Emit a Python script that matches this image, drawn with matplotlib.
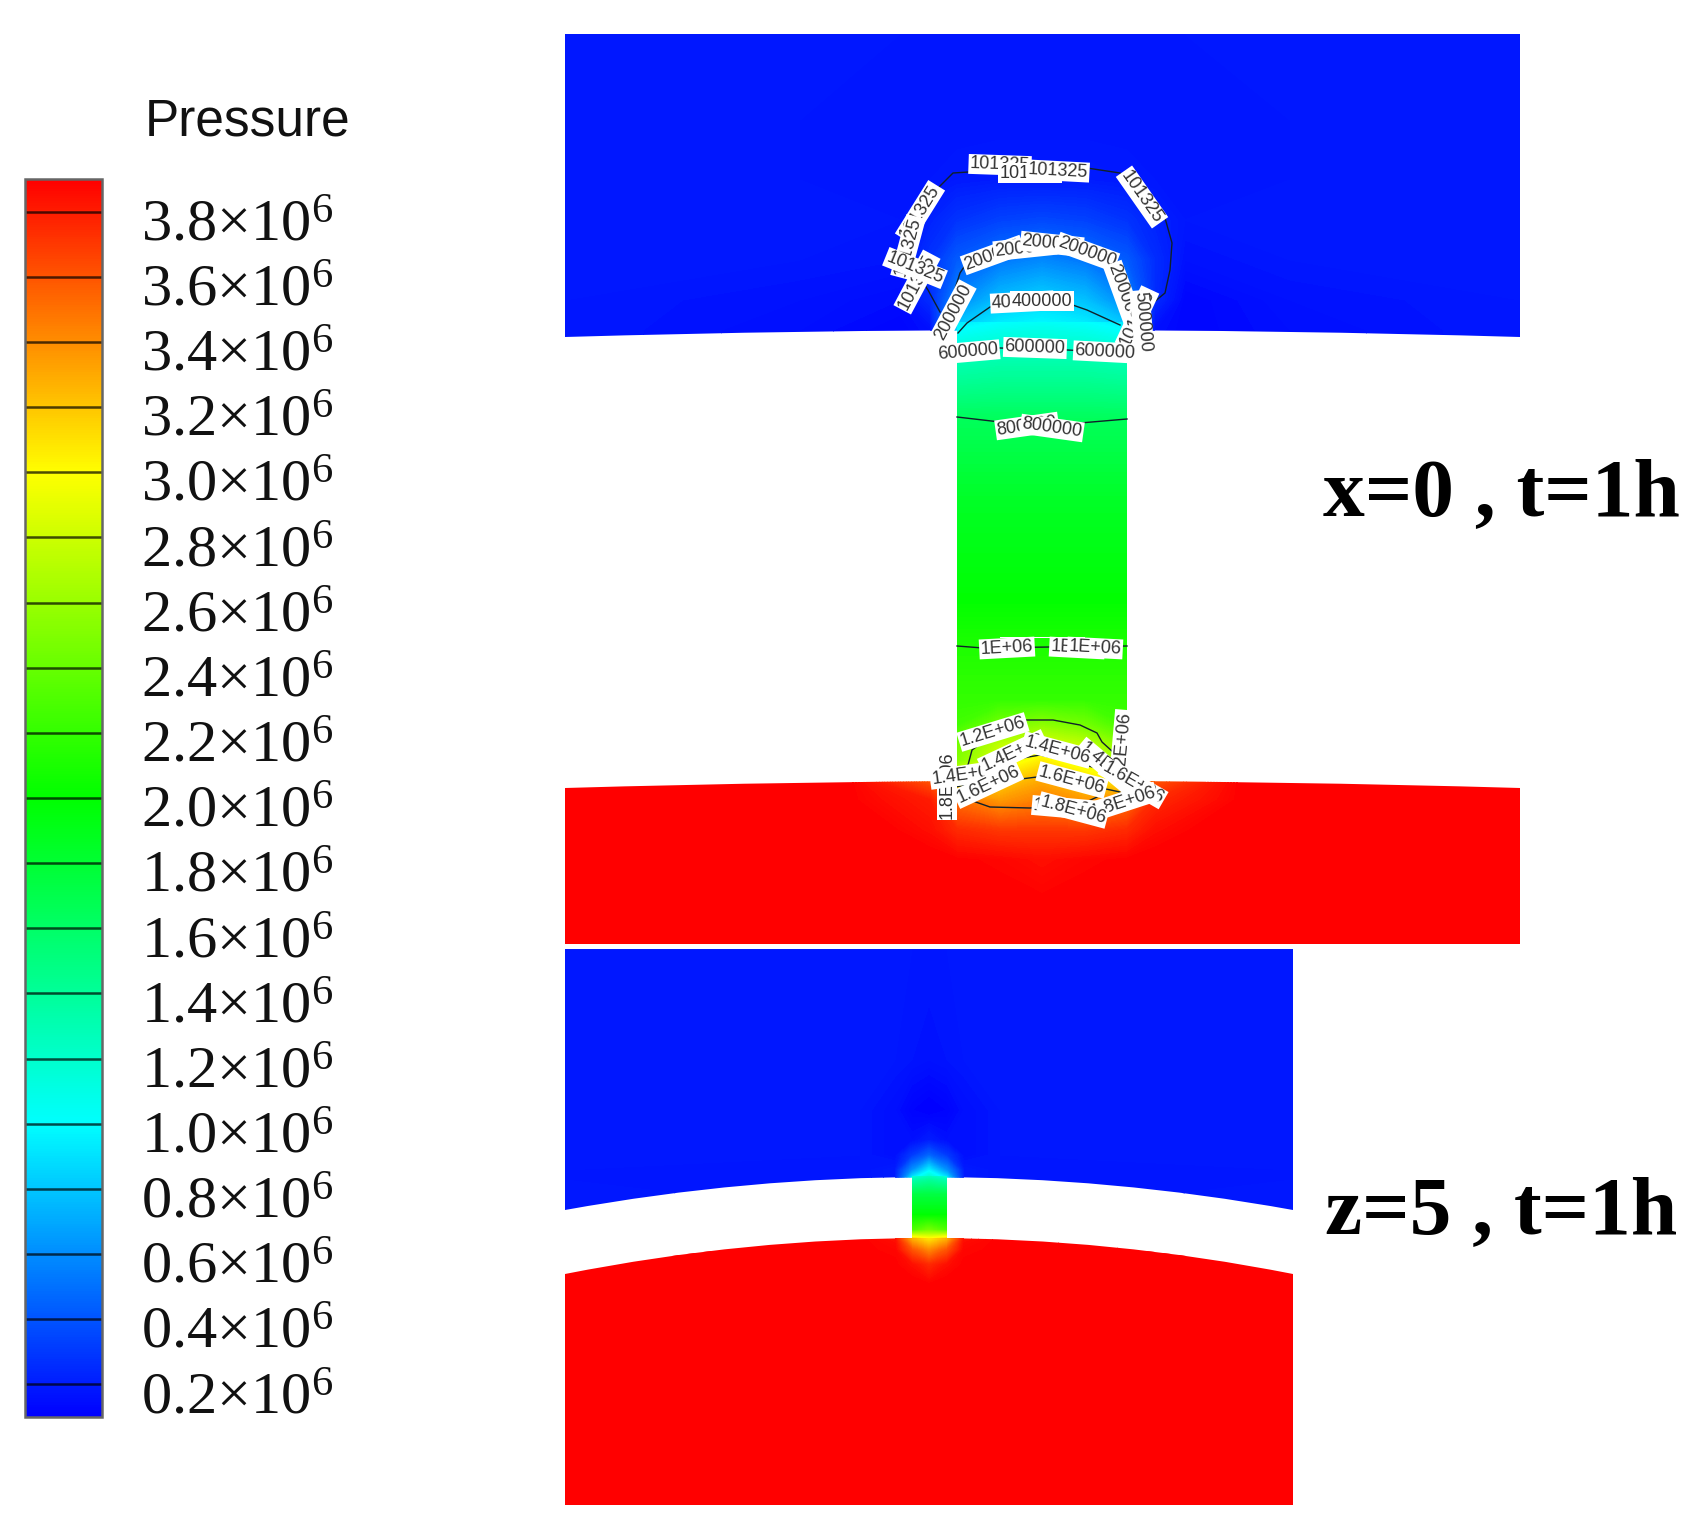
import numpy as np
import matplotlib
matplotlib.use("Agg")
import matplotlib.pyplot as plt
from matplotlib.colors import LinearSegmentedColormap, Normalize
from matplotlib.cm import ScalarMappable
from matplotlib.path import Path

W, H = 1696, 1531
plt.rcParams['mathtext.fontset'] = 'custom'
plt.rcParams['mathtext.rm'] = 'Liberation Serif'
plt.rcParams['mathtext.default'] = 'regular'

# ---------- data ----------
tick_levels = [0.2, 0.4, 0.6, 0.8, 1.0, 1.2, 1.4, 1.6, 1.8, 2.0, 2.2, 2.4, 2.6, 2.8, 3.0, 3.2, 3.4, 3.6, 3.8]
tick_names = ['0.2', '0.4', '0.6', '0.8', '1.0', '1.2', '1.4', '1.6', '1.8', '2.0', '2.2', '2.4', '2.6', '2.8',
              '3.0', '3.2', '3.4', '3.6', '3.8']
cmap_values = [0.1, 1.0, 2.0, 3.0, 3.9]
cmap_colors = ['#0000ff', '#00ffff', '#00ff00', '#ffff00', '#ff0000']

# panel 1 (x=0): pressure in 1e6 units, sampled on pixel-like section coordinates
top1_x = [565, 800, 900, 930, 957, 1000, 1042, 1085, 1127, 1155, 1185, 1290, 1520]
top1_y = [34, 120, 180, 220, 260, 300, 330, 345]
top1_p = [
    [.18, .18, .18, .18, .18, .18, .18, .18, .18, .18, .18, .18, .18],
    [.18, .18, .17, .17, .17, .17, .17, .17, .17, .17, .17, .18, .18],
    [.18, .18, .17, .18, .19, .20, .20, .20, .19, .18, .17, .18, .18],
    [.18, .18, .18, .22, .28, .33, .35, .33, .28, .22, .18, .18, .18],
    [.18, .18, .17, .28, .42, .52, .58, .52, .42, .26, .16, .18, .18],
    [.18, .16, .14, .25, .58, .78, .85, .78, .58, .25, .12, .16, .18],
    [.18, .15, .12, .15, .85, .98, 1.02, .98, .85, .15, .12, .15, .18],
    [.18, .15, .12, .15, .85, .98, 1.02, .98, .85, .15, .12, .15, .18],
]
neck1_x = [957, 1000, 1042, 1085, 1127]
neck1_y = [322, 363, 420, 500, 600, 650, 700, 725, 745, 760, 781, 800]
neck1_p = [
    [.92, 1.0, 1.03, 1.0, .92],
    [1.30, 1.33, 1.33, 1.33, 1.30],
    [1.65, 1.65, 1.65, 1.65, 1.65],
    [1.85, 1.85, 1.85, 1.85, 1.85],
    [2.0, 2.0, 2.0, 2.0, 2.0],
    [2.12, 2.12, 2.12, 2.12, 2.12],
    [2.2, 2.2, 2.2, 2.2, 2.2],
    [2.25, 2.45, 2.55, 2.45, 2.25],
    [2.45, 2.75, 2.85, 2.75, 2.5],
    [2.5, 2.85, 3.05, 2.85, 2.55],
    [3.0, 3.15, 3.3, 3.15, 3.0],
    [3.5, 3.35, 3.45, 3.35, 3.5],
]
base1_x = [565, 850, 930, 957, 1000, 1042, 1085, 1127, 1155, 1240, 1520]
base1_y = [770, 781, 800, 830, 860, 944]
base1_p = [
    [3.95, 3.9, 3.6, 3.0, 3.15, 3.25, 3.15, 3.0, 3.6, 3.9, 3.95],
    [3.95, 3.9, 3.6, 3.0, 3.15, 3.3, 3.15, 3.0, 3.6, 3.9, 3.95],
    [3.95, 3.9, 3.8, 3.5, 3.35, 3.45, 3.35, 3.5, 3.75, 3.9, 3.95],
    [3.95, 3.95, 3.85, 3.75, 3.7, 3.7, 3.7, 3.75, 3.85, 3.95, 3.95],
    [3.95, 3.95, 3.92, 3.9, 3.88, 3.85, 3.88, 3.9, 3.92, 3.95, 3.95],
    [3.95, 3.95, 3.95, 3.95, 3.95, 3.95, 3.95, 3.95, 3.95, 3.95, 3.95],
]

# panel 2 (z=5)
top2_x = [565, 860, 895, 912, 929, 947, 964, 1000, 1293]
top2_y = [949, 1060, 1110, 1140, 1155, 1170, 1180, 1215]
top2_p = [
    [.18, .18, .18, .18, .18, .18, .18, .18, .18],
    [.18, .18, .18, .17, .16, .17, .18, .18, .18],
    [.18, .18, .15, .11, .09, .11, .15, .18, .18],
    [.18, .18, .15, .15, .20, .15, .15, .18, .18],
    [.18, .18, .15, .30, .45, .30, .15, .18, .18],
    [.18, .17, .20, .60, .95, .60, .20, .17, .18],
    [.18, .17, .20, 1.0, 1.3, 1.0, .20, .17, .18],
    [.18, .18, .18, .18, .18, .18, .18, .18, .18],
]
neck2_x = [912, 929, 947]
neck2_y = [1176, 1180, 1195, 1215, 1230, 1240]
neck2_p = [
    [1.1, 1.25, 1.1],
    [1.3, 1.4, 1.3],
    [1.75, 1.75, 1.75],
    [2.0, 2.0, 2.0],
    [2.3, 2.45, 2.3],
    [3.3, 3.1, 3.3],
]
base2_x = [565, 860, 895, 912, 929, 947, 964, 1000, 1293]
base2_y = [1232, 1240, 1250, 1265, 1285, 1505]
base2_p = [
    [3.95, 3.9, 3.85, 3.3, 3.0, 3.3, 3.85, 3.9, 3.95],
    [3.95, 3.9, 3.85, 3.3, 3.1, 3.3, 3.85, 3.9, 3.95],
    [3.95, 3.9, 3.88, 3.6, 3.4, 3.6, 3.88, 3.9, 3.95],
    [3.95, 3.95, 3.9, 3.85, 3.75, 3.85, 3.9, 3.95, 3.95],
    [3.95, 3.95, 3.95, 3.92, 3.9, 3.92, 3.95, 3.95, 3.95],
    [3.95, 3.95, 3.95, 3.95, 3.95, 3.95, 3.95, 3.95, 3.95],
]

# isolines in panel 1
iso_101325_x = [940, 928, 915, 912, 920, 933, 953, 1000, 1050, 1087, 1120, 1145, 1165, 1172, 1170, 1165, 1148]
iso_101325_y = [312, 290, 270, 240, 215, 193, 173, 170, 168, 168, 173, 195, 218, 243, 270, 293, 307]
iso_200000_x = [942, 960, 970, 1000, 1040, 1080, 1113, 1128, 1133]
iso_200000_y = [330, 273, 258, 248, 243, 250, 267, 303, 330]
iso_400000_x = [958, 967, 990, 1030, 1067, 1087, 1120]
iso_400000_y = [333, 323, 307, 302, 303, 310, 325]
iso_600000_x = [940, 1000, 1067, 1133]
iso_600000_y = [353, 348, 350, 353]
iso_800000_x = [957, 1000, 1080, 1127]
iso_800000_y = [417, 422, 423, 419]
iso_1e6_x = [957, 983, 1050, 1127]
iso_1e6_y = [646, 648, 647, 646]
iso_12e5_x = [958, 968, 972, 995, 1023, 1053, 1080, 1097, 1102, 1113]
iso_12e5_y = [770, 765, 750, 733, 720, 720, 725, 733, 742, 752]
iso_14e5_x = [975, 1000, 1040, 1085, 1110]
iso_14e5_y = [775, 762, 755, 765, 772]
iso_16e5_x = [955, 980, 1013, 1037, 1073, 1120]
iso_16e5_y = [787, 783, 780, 777, 782, 792]
iso_18e5_x = [970, 990, 1030, 1080, 1097]
iso_18e5_y = [800, 807, 808, 805, 797]

iso_labels = [
    ("101325", 1000, 165, -2), ("101325", 1030, 173, 0), ("101325", 1058, 171, -3),
    ("101325", 1142, 197, -55), ("101325", 920, 212, 58), ("101325", 908, 247, 75),
    ("101325", 917, 282, 62), ("101325", 915, 268, -22),
    ("200000", 993, 255, 20), ("200000", 1025, 248, 6), ("200000", 1052, 244, -6), ("200000", 1087, 252, -20),
    ("200000", 953, 312, 62), ("200000", 1123, 293, -70), ("101325", 1137, 318, 65), ("500000", 1142, 322, -85),
    ("400000", 1022, 302, 3), ("400000", 1042, 301, 0),
    ("600000", 968, 352, 5), ("600000", 1035, 348, -2), ("600000", 1105, 352, -3),
    ("800000", 1027, 426, 8), ("800000", 1052, 428, -8),
    ("1E+06", 1007, 648, 3), ("1E+06", 1077, 648, -3), ("1E+06", 1095, 648, -3),
    ("1.2E+06", 993, 732, 17), ("1.8E+06", 947, 785, 90), ("1.2E+06", 1122, 745, 85),
    ("1.4E+06", 1107, 767, -40), ("1.4E+06", 965, 775, 8), ("1.6E+06", 988, 785, 25), ("1.4E+06", 1013, 753, 25),
    ("1.4E+06", 1057, 750, -15), ("1.6E+06", 1133, 783, -30), ("1.6E+06", 1072, 780, -15),
    ("1.8E+06", 1067, 808, -5), ("1.8E+06", 1123, 802, 18), ("1.8E+06", 1073, 810, -15),
]

# ---------- drawing ----------
fig = plt.figure(figsize=(W / 100, H / 100), dpi=100, facecolor='white')
ax = fig.add_axes([0, 0, 1, 1])
ax.set_xlim(0, W)
ax.set_ylim(H, 0)
ax.axis('off')

nodes = [(v - cmap_values[0]) / (cmap_values[-1] - cmap_values[0]) for v in cmap_values]
cmap = LinearSegmentedColormap.from_list('pressure', list(zip(nodes, cmap_colors)), N=512)
norm = Normalize(cmap_values[0], cmap_values[-1])
levels = np.linspace(0, 4.1, 411)


def field(xs, ys, p, path):
    cs = ax.contourf(xs, ys, np.array(p), levels=levels, cmap=cmap, norm=norm, zorder=2)
    cs.set_clip_path(path, transform=ax.transData)


M, L, C, Z = Path.MOVETO, Path.LINETO, Path.CURVE3, Path.CLOSEPOLY
top1_path = Path([(565, 34), (1520, 34), (1520, 337), (1042, 323), (565, 337), (565, 34)], [M, L, L, C, C, Z])
neck1_path = Path([(957, 322), (1127, 322), (1127, 795), (957, 795), (957, 322)], [M, L, L, L, Z])
base1_path = Path([(565, 788), (1042, 774), (1520, 788), (1520, 944), (565, 944), (565, 788)], [M, C, C, L, L, Z])
top2_path = Path([(565, 949), (1293, 949), (1293, 1210), (929, 1144), (565, 1210), (565, 949)], [M, L, L, C, C, Z])
neck2_path = Path([(912, 1176), (947, 1176), (947, 1240), (912, 1240), (912, 1176)], [M, L, L, L, Z])
base2_path = Path([(565, 1274), (929, 1202), (1293, 1274), (1293, 1505), (565, 1505), (565, 1274)], [M, C, C, L, L, Z])

field(top1_x, top1_y, top1_p, top1_path)
field(neck1_x, neck1_y, neck1_p, neck1_path)
field(base1_x, base1_y, base1_p, base1_path)
field(top2_x, top2_y, top2_p, top2_path)
field(neck2_x, neck2_y, neck2_p, neck2_path)
field(base2_x, base2_y, base2_p, base2_path)

for xs, ys in [(iso_101325_x, iso_101325_y), (iso_200000_x, iso_200000_y), (iso_400000_x, iso_400000_y),
               (iso_600000_x, iso_600000_y), (iso_800000_x, iso_800000_y), (iso_1e6_x, iso_1e6_y),
               (iso_12e5_x, iso_12e5_y), (iso_14e5_x, iso_14e5_y), (iso_16e5_x, iso_16e5_y),
               (iso_18e5_x, iso_18e5_y)]:
    ax.plot(xs, ys, color='#10202a', lw=1.0, zorder=3)

for i, (s, x, y, r) in enumerate(iso_labels):
    ax.text(x, y, s, rotation=r, rotation_mode='anchor', ha='center', va='center',
            family='Liberation Sans', fontsize=13, color='#333333', zorder=4 + i * 0.01,
            bbox=dict(boxstyle='square,pad=0.08', fc='white', ec='none'))

ax.text(1323, 515, 'x=0 , t=1h', family='Liberation Serif', weight='bold', fontsize=60, color='black',
        va='baseline', ha='left')
ax.text(1325, 1233, 'z=5 , t=1h', family='Liberation Serif', weight='bold', fontsize=60, color='black',
        va='baseline', ha='left')
ax.text(145, 135, 'Pressure', family='Liberation Sans', fontsize=37, color='#111111', va='baseline', ha='left')

# colour bar
cax = fig.add_axes([25 / W, 1 - 1417 / H, 77 / W, (1417 - 179) / H])
cb = fig.colorbar(ScalarMappable(norm=norm, cmap=cmap), cax=cax, ticks=tick_levels)
cb.ax.tick_params(length=0, labelright=False)
cb.outline.set_edgecolor('#666666')
cb.outline.set_linewidth(1.8)
for level, name in zip(tick_levels, tick_names):
    cb.ax.axhline(level, color='black', alpha=0.7, lw=1.8)
    cb.ax.annotate(name + '\u00d710$^{6}$', xy=(1, level), xycoords=cb.ax.get_yaxis_transform(),
                   xytext=(39, -29), textcoords='offset pixels', va='baseline', ha='left',
                   family='Liberation Serif', fontsize=43.5, color='#111111')

fig.savefig('out.png', dpi=100, facecolor='white')
